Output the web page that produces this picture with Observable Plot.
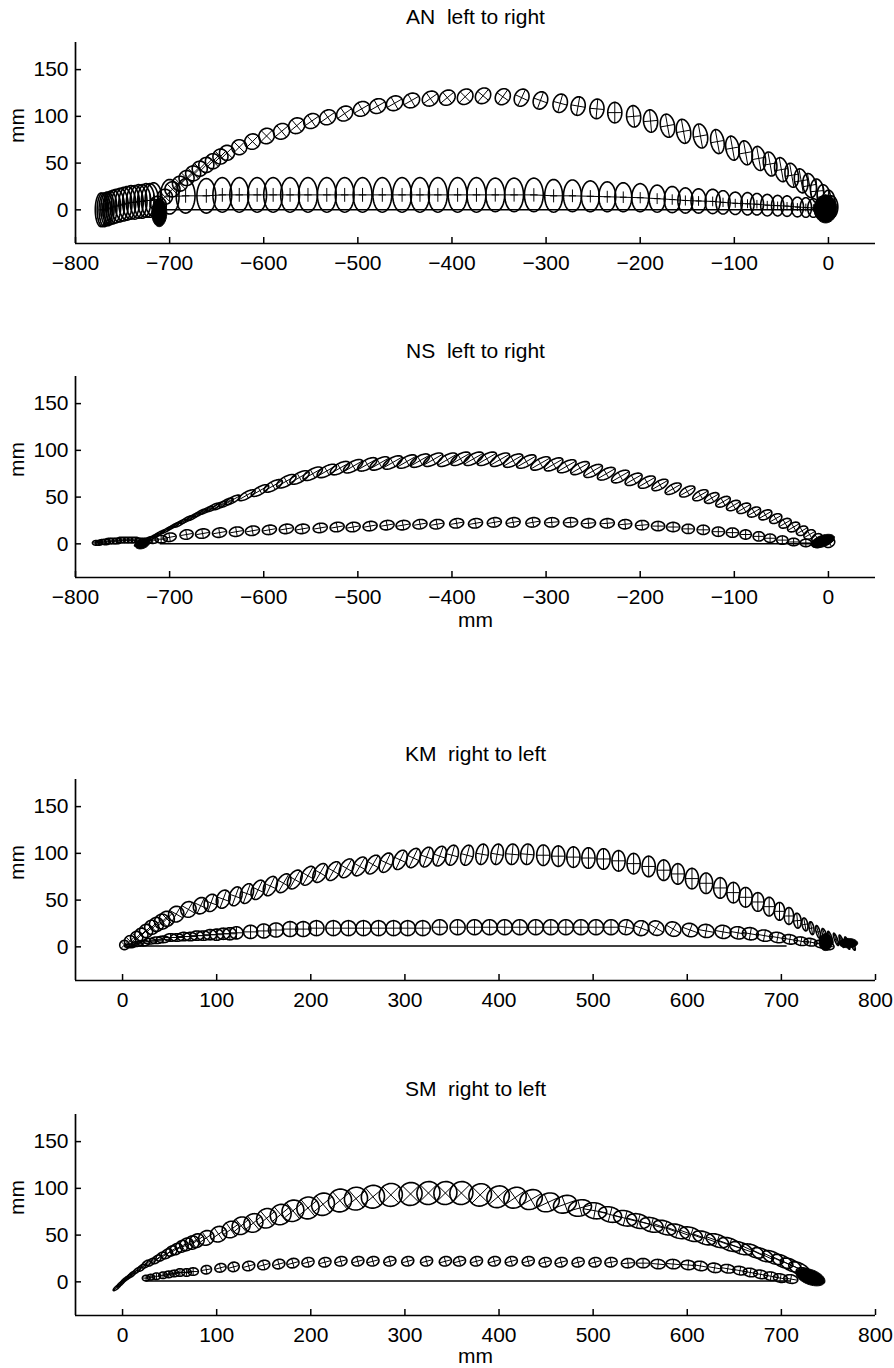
<!DOCTYPE html>
<html>
<head>
<meta charset="utf-8">
<script src="https://cdn.jsdelivr.net/npm/d3@7"></script>
<script src="https://cdn.jsdelivr.net/npm/@observablehq/plot@0.6"></script>
<style>
  html, body { margin: 0; padding: 0; background: #fff; overflow: hidden; }
  #root { position: relative; width: 894px; height: 1368px; background: #fff; }
  #root svg { position: absolute; left: 0; }
</style>
</head>
<body>
<div id="root"></div>
<script>
// ---------------- DATA (mm) : [x, y, semiAxisA, semiAxisB, angleOfA(deg)] ----------------
const titles = ["AN  left to right", "NS  left to right", "KM  right to left", "SM  right to left"];
const xTicksLR = [-800, -700, -600, -500, -400, -300, -200, -100, 0];
const xTicksRL = [0, 100, 200, 300, 400, 500, 600, 700, 800];
const yTicks = [0, 50, 100, 150];

// AN
const anUpper = [[-712,6,8,9,45],[-705,14,8,8,45],[-697,22,8,8,45],[-689,28,8,8,45],[-682,34,8,8,45],[-675,39,8,8,45],[-668,44,8,8,45],[-661,48,8,8,45],[-654,52,8,8,45],[-646,57,8,8,45],[-639,61,8,8,45],[-626,67,8,8,45],[-612,73,8.5,8,45],[-597,79,8.5,8,45],[-581,84,9,8,40],[-565,90,9,8,40],[-549,95,9,7.5,35],[-532,99,9,7.5,35],[-514,103,9,7.5,35],[-496,108,9,7.5,30],[-479,111,9,7.5,30],[-461,114,9,7.5,30],[-443,117,9,7.5,30],[-423,119,9,7.5,35],[-405,120,9,7.5,40],[-386,121,9,7.5,45],[-367,122,9,7.5,50],[-346,121,9,7.5,55],[-326,120,9.5,7.5,65],[-306,117,9.5,7.5,70],[-285,114,10,7.5,75],[-266,111,10,7.5,80],[-246,108,10.5,7.5,85],[-227,104,11,7.5,90],[-207,100,11.5,7.5,95],[-189,95,12,7.5,95],[-171,90,12.5,7.5,100],[-154,84,13,7.5,100],[-136,79,13,7.5,100],[-118,73,13,7,100],[-102,66,13,7,100],[-88,61,13,7,100],[-74,55,13,7,100],[-62,49,13,7,100],[-50,43,13,7,100],[-39,37,13,7,100],[-29,31,13,7,100],[-20,26,13,7,100],[-12,20,13,7,95],[-5,14,13,7,95],[0,8,13,7,90],[3,3,12,7,90]];
const anLower = [[-773,0,6,18,0],[-771,0,6,18,0],[-769,0,6,18,0],[-767,1,6,18,0],[-765,1,6,18,0],[-763,2,7,18,0],[-760,3,8,18,0],[-757,4,9,18,0],[-753,5,9,18,0],[-749,6,9,18,0],[-745,7,9,18,0],[-741,8,9,18,0],[-737,8,9,18,0],[-733,9,9,18,0],[-729,9,9,18,0],[-725,10,9,18,0],[-721,10,9,18,0],[-717,11,9,18,0],
  [-700,14,10,18.5,0],[-683,15,10,18.5,0],[-661,15,10,18.5,0],[-644,16,10,18.5,0],[-626,16,10,18.5,0],[-607,16,10,18.5,0],[-590,16,10,18.5,0],[-572,16,10,18.5,0],[-553,16,10,18.5,0],[-533,16,10,18.5,0],[-514,16,10,18.5,0],[-495,16,10,18.5,0],[-474,16,10,18.5,0],[-453,16,10,18.5,0],[-434,16,10,18.5,0],[-415,16,10,18.5,0],[-394,16,10,18.5,0],[-374,16,10,18.5,0],[-354,16,10,18,0],[-334,16,10,18,0],[-313,16,10,18,0],[-292,15,9.5,17.5,0],[-272,15,9.5,17,0],[-253,14.5,9.5,16.5,0],[-235,14,9,16,0],[-218,13.5,9,15.5,0],[-200,13,9,15,0],[-182,12,8.5,14.5,0],[-166,11,8.5,14,0],[-152,10,8,13.5,0],[-138,9.5,8,13,0],[-123,9,8,13,0],[-112,8,7.5,12.5,0],[-99,7,7.5,12,0],[-86,6.5,7,12,0],[-76,6,7,11.5,0],[-65,5,7,11.5,0],[-54,4.5,6.5,11,0],[-44,4,6.5,11,0],[-33,3,6.5,10.5,0],[-24,2.5,6,10.5,0],[-16,2,6,10,0],[-9,1,6,10,0],[-3,0,6,10,0]];
const anBlobs = [[-711,-3,15,8,90],[-3,1,15,12,90]];
const anBaseX = [-713, -15];
const anBaseY = [0, 0];

// NS
const nsUpper = [[-732,1,6,1.5,30],[-725,4,6.5,1.5,30],[-718,7,7,1.5,30],[-711,11,7,1.5,30],[-703,15,7.5,1.5,30],[-696,19,7.5,1.5,30],[-689,22,7.5,2,30],[-682,26,7.5,2,30],[-675,29,7.5,2,30],[-668,33,7.5,2,30],[-661,36,8,2,30],[-654,39,8,2.5,30],[-647,41,8,2.5,30],[-640,44,8.5,3,30],[-633,47,9,3,30],[-618,52,10,3.5,30],[-604,57,10.5,4,30],[-590,62,11,4.5,30],[-576,67,11.5,5,30],[-562,71,11.5,5,30],[-548,75,11.5,5,30],[-533,78,11.5,5,30],[-519,81,11.5,5,30],[-505,83,11.5,5,30],[-490,85,11.5,5,30],[-477,86,11.5,5,30],[-463,87,11.5,5,30],[-448,88,11.5,5,30],[-434,89,11.5,5,30],[-420,90,11.5,5,30],[-405,90,11.5,5,30],[-391,91,11.5,5,30],[-377,91,11.5,5,30],[-363,91,11.5,5,30],[-349,90,11.5,5,30],[-335,89,11.5,5,30],[-321,88,11.5,5,30],[-306,86,11.5,5,30],[-292,85,11,5,30],[-278,83,11,5,30],[-264,81,11,5,30],[-250,78,11,5,30],[-236,75,10.5,5,30],[-221,72,10.5,5,30],[-207,69,10,5,30],[-193,66,10,5,30],[-179,63,9.5,4.5,30],[-165,59,9.5,4.5,30],[-150,56,9,4.5,30],[-136,52,9,4.5,30],[-124,49,8.5,4.5,30],[-112,45,8.5,4.5,30],[-101,41,8,4.5,30],[-90,38,8,4.5,30],[-79,34,7.5,4.5,30],[-67,31,7.5,4.5,30],[-56,27,7,4.5,30],[-46,22,7,4.5,30],[-37,18,7,4.5,30],[-28,14,6.5,4.5,30],[-20,10,6.5,4.5,30],[-12,6,6,4.5,30],[-5,3,6,4.5,30],[1,1,6,4.5,30]];
const nsLower = [[-778,1,4,2.5,0],[-775,1,4,2.5,0],[-772,2,4.5,2.5,0],[-768,2,5,3,0],[-764,3,5,3,0],[-760,3,5,3,0],[-756,3,5,3,0],[-752,4,5,3,0],[-748,4,5,3,0],[-744,4,5,3,0],[-740,4,5,3,0],[-736,4,5,3,0],[-732,3,5,3,0],[-728,3,5,3,0],[-724,3,5,3,0],[-718,4,6,3.5,0],[-709,5,6.5,4,0],
  [-700,7,7,4.5,10],[-682,10,7,5,10],[-665,11,7.5,5,10],[-647,12,7.5,5,10],[-629,13,7.5,5,10],[-612,14,7.5,5,10],[-594,15,7.5,5,10],[-576,16,7.5,5,10],[-559,16,7.5,5,10],[-540,17,7.5,5,10],[-522,18,7.5,5,10],[-505,18,7.5,5,10],[-487,19,7.5,5,10],[-469,20,7.5,5,10],[-452,20,7.5,5,10],[-434,21,7.5,5,10],[-416,21,7.5,5,10],[-395,22,7.5,5,10],[-375,22,7.5,5,10],[-355,23,7.5,5,10],[-335,23,7.5,5,10],[-314,23,7.5,5,10],[-294,23,7.5,5,5],[-274,23,7.5,5,5],[-255,22,7.5,5,5],[-235,22,7.5,5,5],[-216,21,7,5,5],[-198,20,7,5,5],[-181,19,7,5,0],[-165,18,7,5,0],[-149,16,6.5,5,0],[-133,15,6.5,5,0],[-117,13,6.5,5,0],[-102,12,6.5,5,0],[-88,10,6,5,0],[-74,8,6,5,0],[-62,6,6,4.5,0],[-49,4,6,4.5,0],[-37,2,6,4,0],[-24,1,6,4,0],[-12,0,6,4,0]];
const nsBlobs = [[-729,0,8,5,20],[-6,3,13,6,20]];
const nsBaseX = [-710, 0];
const nsBaseY = [0, 0];

// KM
const kmUpper = [[2,2,5,5,45],[8,6,6,6,45],[15,10,6.5,6.5,45],[20,13,7,7,45],[25,17,7,7,45],[31,21,7.5,7.5,45],[36,24,7.5,7.5,45],[42,27,8,8,45],[47,30,8,8,45],[57,35,8.5,8,60],[70,40,8.5,8,60],[83,44,9,7.5,65],[94,47,9.5,7,70],[107,51,10,7,70],[120,54,10.5,6.5,70],[132,57,11,6.5,70],[144,61,11,6.5,65],[157,65,11,6.5,65],[171,68,11,6.5,60],[183,72,11,6.5,60],[197,76,11,6.5,60],[210,79,11,6.5,60],[224,81,11,6.5,60],[238,84,11,6.5,60],[252,86,11,6.5,60],[266,88,11,6.5,60],[280,90,11,6.5,65],[295,93,11,6.5,65],[309,95,11,6.5,65],[323,96,11,6.5,70],[337,97,11,6.5,70],[350,98,11,6.5,75],[366,98,11,6.5,75],[382,99,11,6.5,80],[398,99,11,6.5,80],[414,99,11,7,85],[430,99,11,7,85],[447,98,11,7,90],[463,97,11,7,90],[479,96,11,7,90],[495,95,11,7,90],[511,94,11,7,90],[527,92,11,7,90],[543,89,11,7,90],[559,86,11,7,90],[575,82,11,7,90],[590,78,11,7,90],[605,73,11,7,90],[620,68,11,7,90],[635,63,11,7,90],[649,58,11,7,90],[662,53,10.5,7,90],[675,48,10,6.5,90],[687,43,10,6,90],[698,38,9.5,5.5,90],[708,33,9,5,90],[717,28,8,4,95],[725,24,7,3,100],[732,20,7,2.5,100],[739,16,7,2,105],[746,13,7,2,110],[752,10,7,1.5,110],[758,8,7,1.5,110],[764,6,7,1.5,110],[770,4,7,1.5,110],[776,2,6,1.5,110]];
const kmLower = [[8,1,6,2,0],[15,3,6,2.5,0],[22,4,6.5,3,0],[29,6,6.5,3,0],[36,7,7,3.5,0],[43,8,7,3.5,0],[51,10,7,4,0],[58,10,7,4,0],[65,11,7,4.5,0],[72,11,7,4.5,0],[79,12,7,5,0],[86,12,7,5,0],[93,13,7,5.5,0],[100,13,7,6,0],[107,14,7,6,0],[114,14,7,6.5,0],[121,15,7,6.5,0],[136,16,7.5,7,0],[150,17,7.5,7.5,0],[163,18,8,7.5,0],[178,19,8,8,0],[192,19,8,8,0],[206,20,8,8,0],[224,20,8,8,0],[240,20,8,8,0],[256,20,8,8,0],[272,20,8,8,0],[288,20,8,8,0],[303,20,8,8,0],[319,20,8,8,0],[337,21,8,8,0],[356,21,8,8,0],[374,21,8,8,0],[390,21,8,8,0],[406,21,8,8,0],[422,21,8,8,0],[439,21,8,8,0],[455,21,8,8,0],[471,21,8,8,0],[487,21,8,8,0],[503,21,8,8,0],[519,21,8,8,0],[535,21,8,8,-10],[551,20,8,8,-20],[567,20,8.5,7.5,-30],[585,19,8.5,7.5,-30],[603,18,8.5,7,-20],[620,17,8.5,7,-10],[638,16,8.5,7,-10],[654,15,8.5,6.5,-10],[667,14,8.5,6.5,-10],[682,12,8.5,6,-10],[696,10,8.5,5.5,-10],[709,8,8,5,-10],[721,6,7.5,4.5,-10],[731,5,7,4,-10],[742,3,7,4,-10],[749,1,7,4,-10]];
const kmBlobs = [[747,5,9,7,90],[771,4,10,5,0]];
const kmBaseX = [8, 705];
const kmBaseY = [1, 1];

// SM
const smUpper = [[-6,-6,5,1.5,40],[-2,-2,5,1.5,40],[2,2,5,1.5,40],[6,5,5,1.5,40],[10,8,5,2,40],[15,12,5,2,40],[20,15,5,2.5,40],[25,19,5.5,3,40],[30,21,5.5,3,40],[36,24,6,3.5,40],[41,27,6,4,35],[47,30,6.5,4.5,35],[52,33,6.5,5,35],[57,35,7,5.5,35],[63,38,7,6,35],[68,40,7.5,6.5,35],[74,42,7.5,7,35],[79,44,8,7,35],[89,47,8.5,7.5,35],[102,51,9,8,35],[115,56,9.5,8.5,35],[126,60,10,9,40],[139,63,10.5,9.5,40],[153,68,11,10,40],[168,72,11.5,10.5,40],[181,76,12,11,40],[197,79,12,11.5,40],[213,83,12.5,11.5,40],[231,87,12.5,12,40],[248,89,12.5,12,40],[266,91,12.5,12,40],[285,93,12.5,12,45],[306,94,12.5,12,45],[325,95,12.5,12,45],[343,95,12.5,12,45],[360,95,12.5,12,45],[380,93,12.5,11.5,45],[399,91,12.5,11,40],[417,90,12.5,10.5,35],[434,88,12.5,10,30],[452,85,12.5,9.5,25],[470,83,12.5,9,20],[486,79,12.5,8.5,15],[502,76,12.5,8.5,-10],[518,72,12.5,8,-15],[534,68,12.5,8,-15],[548,65,12.5,7.5,-15],[562,61,12.5,7.5,-15],[576,58,12.5,7,-20],[590,54,12.5,7,-20],[604,51,12.5,7,-20],[618,47,12.5,6.5,-20],[632,44,12.5,6.5,-20],[645,40,12.5,6.5,-20],[657,36,12.5,6,-20],[670,33,12.5,6,-25],[680,29,12.5,6,-25],[691,26,12,6,-25],[701,22,12,6,-25],[710,18,12,6,-25],[719,14,12,6,-25],[726,8,11,6,-25],[733,4,10,6,-25]];
const smLower = [[25,4,4,3,0],[30,5,4,3,0],[36,6,4.5,3.5,0],[43,7,4.5,3.5,0],[49,8,5,3.5,0],[55,9,5,3.5,0],[61,10,5,4,0],[68,10,5,4,0],[75,11,5.5,4,0],[89,13,5.5,4.5,10],[104,15,6,4.5,15],[118,16,6,5,15],[134,17,6.5,5,15],[150,18,6.5,5,15],[166,19,6.5,5,15],[181,20,6.5,5,15],[197,21,6.5,5,15],[215,21,6.5,5,15],[232,22,6.5,5,15],[250,22,6.5,5,15],[266,22,6.5,5,15],[284,22,6.5,5,15],[303,22,6.5,5,15],[323,22,6.5,5,15],[343,22,6.5,5,15],[358,22,6.5,5,15],[376,22,6.5,5,15],[395,22,6.5,5,15],[413,22,6.5,5,15],[431,22,6.5,5,15],[449,21,6.5,5,15],[466,21,6.5,5,15],[484,21,6.5,5,15],[502,21,6.5,5,15],[519,21,6.5,5,10],[537,20,7,5,5],[553,20,7,5,0],[569,19,7.5,5,-5],[585,19,7.5,5,-5],[601,18,7.5,5,-5],[614,17,7.5,5,-10],[629,15,7.5,5,-10],[643,14,7.5,4.5,-10],[656,12,7.5,4.5,-10],[667,10,7.5,4.5,-10],[678,8,7.5,4.5,-10],[689,6,7.5,4.5,-10],[699,4,7.5,4.5,-10],[710,3,7.5,4.5,-10]];
const smBlobs = [[731,5,16,8,-20]];
const smBaseX = [25, 709];
const smBaseY = [1, 1];

// ---------------- DRAWING ----------------
const FONT = "'Liberation Sans', Arial, Helvetica, sans-serif";
const FS = 21;
const fmt = d => (d < 0 ? "\u2212" + (-d) : String(d));

function outlines(list, tag) {
  const out = [];
  list.forEach((e, i) => {
    const [cx, cy, a, b, ang] = e;
    const p = ang * Math.PI / 180, c = Math.cos(p), s = Math.sin(p);
    for (let k = 0; k <= 48; k++) {
      const t = 2 * Math.PI * k / 48;
      const u = a * Math.cos(t), v = b * Math.sin(t);
      out.push({x: cx + u * c - v * s, y: cy + u * s + v * c, id: tag + i});
    }
  });
  return out;
}
function crosses(list, f) {
  const out = [];
  for (const [cx, cy, a, b, ang] of list) {
    const p = ang * Math.PI / 180, c = Math.cos(p), s = Math.sin(p);
    out.push({x1: cx - f * a * c, y1: cy - f * a * s, x2: cx + f * a * c, y2: cy + f * a * s});
    out.push({x1: cx + f * b * s, y1: cy - f * b * c, x2: cx - f * b * s, y2: cy + f * b * c});
  }
  return out;
}

const panels = [
  {top: 0, title: titles[0], xDomain: [-800, 50], xTicks: xTicksLR, xLabelDy: null,
   traj: [{d: anUpper, f: 1}, {d: anLower, f: 0.4, spine: true}], blobs: anBlobs, bx: anBaseX, by: anBaseY},
  {top: 334, title: titles[1], xDomain: [-800, 50], xTicks: xTicksLR, xLabelDy: 49,
   traj: [{d: nsUpper, f: 1}, {d: nsLower, f: 0.9}], blobs: nsBlobs, bx: nsBaseX, by: nsBaseY},
  {top: 737, title: titles[2], xDomain: [-50, 800], xTicks: xTicksRL, xLabelDy: null,
   traj: [{d: kmUpper, f: 1}, {d: kmLower, f: 1}], blobs: kmBlobs, bx: kmBaseX, by: kmBaseY},
  {top: 1072, title: titles[3], xDomain: [-50, 800], xTicks: xTicksRL, xLabelDy: 47,
   traj: [{d: smUpper, f: 1}, {d: smLower, f: 0.9}], blobs: smBlobs, bx: smBaseX, by: smBaseY}
];

const root = document.getElementById("root");
const yDomain = [-36, 179];
const mL = 75, mR = 19, mT = 42, mB = 53, H = 296;
const frameW = 894 - mL - mR, frameH = H - mT - mB;

panels.forEach((P) => {
  const marks = [];
  P.traj.forEach((T, ti) => {
    marks.push(Plot.line(outlines(T.d, `t${ti}_`), {x: "x", y: "y", z: "id", stroke: "black", strokeWidth: 1.6, curve: "linear"}));
    marks.push(Plot.link(crosses(T.d, T.f), {x1: "x1", y1: "y1", x2: "x2", y2: "y2", stroke: "black", strokeWidth: 1}));
    if (T.spine) marks.push(Plot.line(T.d.filter(d => d[0] > -705), {x: d => d[0], y: d => d[1], stroke: "black", strokeWidth: 1}));
  });
  marks.push(Plot.line(outlines(P.blobs, "b"), {x: "x", y: "y", z: "id", fill: "black", stroke: "black", strokeWidth: 1}));
  marks.push(Plot.line(P.bx.map((x, i) => ({x, y: P.by[i]})), {x: "x", y: "y", stroke: "black", strokeWidth: 1.5}));
  // axes
  marks.push(Plot.ruleX([P.xDomain[0]], {stroke: "black", strokeWidth: 1.7}));
  marks.push(Plot.ruleY([yDomain[0]], {stroke: "black", strokeWidth: 1.7}));
  marks.push(Plot.tickX(P.xTicks, {x: d => d, insetTop: frameH - 6, stroke: "black", strokeWidth: 1.5}));
  marks.push(Plot.tickY(yTicks, {y: d => d, insetRight: frameW - 6, stroke: "black", strokeWidth: 1.5}));
  marks.push(Plot.axisX(P.xTicks, {anchor: "bottom", tickSize: 0, tickPadding: 12, tickFormat: fmt, label: null, fontSize: FS, fill: "black"}));
  marks.push(Plot.axisY(yTicks, {anchor: "left", tickSize: 0, tickPadding: 7, tickFormat: fmt, label: null, fontSize: FS, fill: "black"}));
  marks.push(Plot.text([P.title], {text: d => d, frameAnchor: "top", dy: -33, fontSize: FS, fill: "black"}));
  marks.push(Plot.text(["mm"], {text: d => d, frameAnchor: "left", rotate: -90, dx: -58, fontSize: FS, fill: "black"}));
  if (P.xLabelDy != null) marks.push(Plot.text(["mm"], {text: d => d, frameAnchor: "bottom", dy: P.xLabelDy, fontSize: FS, fill: "black"}));

  const svg = Plot.plot({
    width: 894, height: H,
    marginLeft: mL, marginRight: mR, marginTop: mT, marginBottom: mB,
    x: {domain: P.xDomain},
    y: {domain: yDomain},
    style: {fontFamily: FONT, fontSize: FS + "px", background: "white", color: "black", overflow: "visible"},
    marks
  });
  svg.style.top = P.top + "px";
  root.appendChild(svg);
});
</script>
</body>
</html>
